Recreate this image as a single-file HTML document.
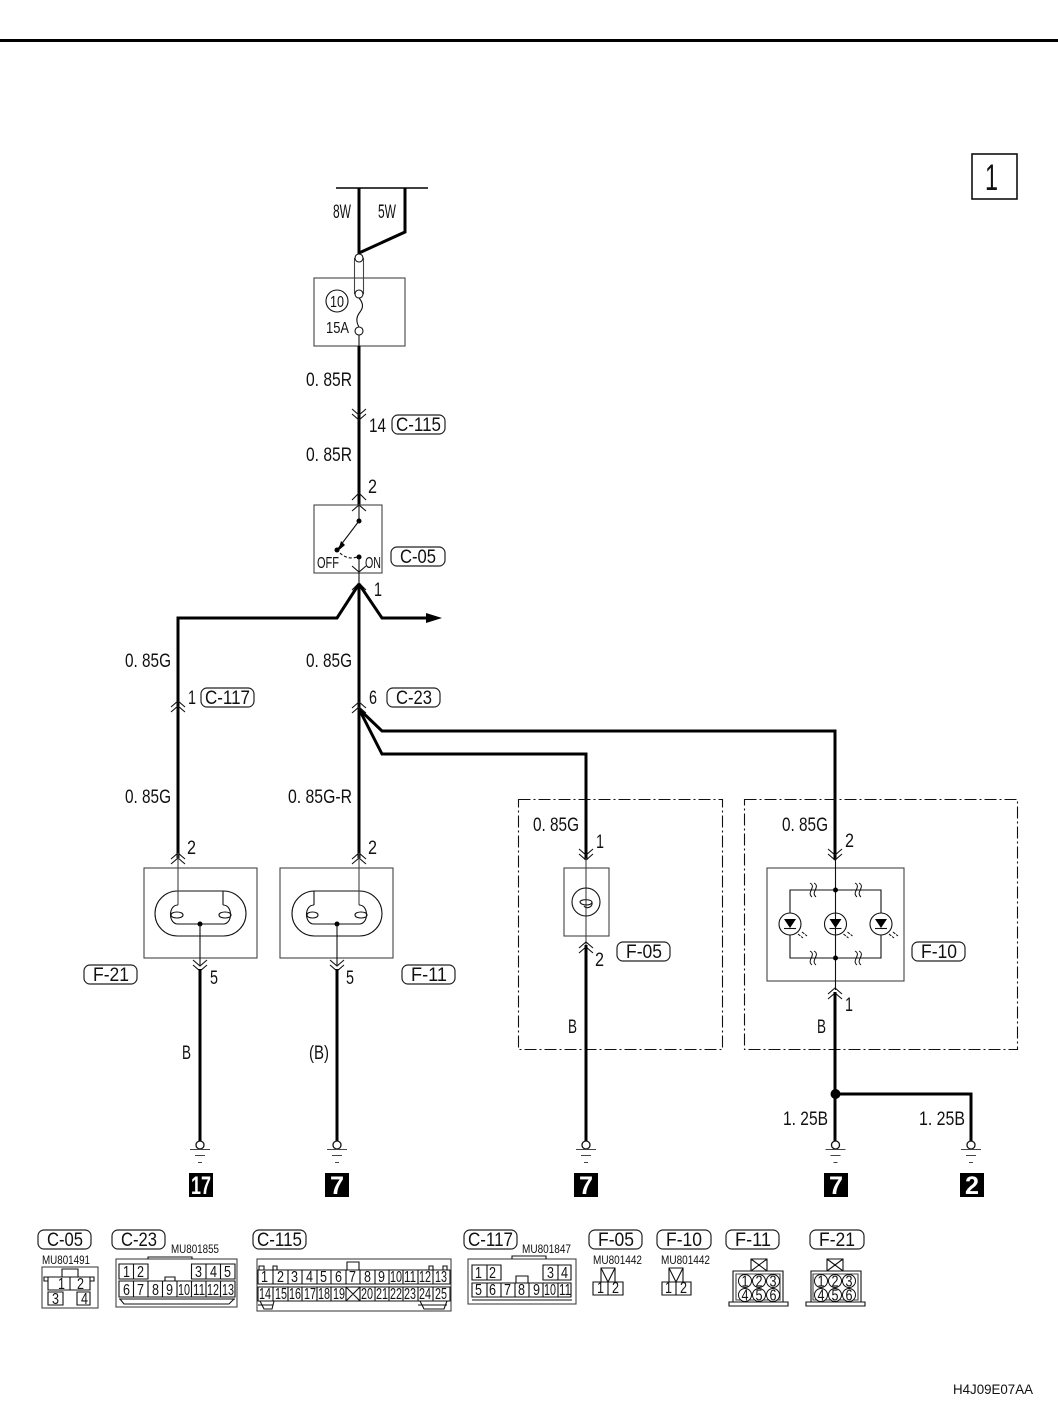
<!DOCTYPE html>
<html><head><meta charset="utf-8"><style>
html,body{margin:0;padding:0;background:#fff}
svg{display:block}
text{font-family:"Liberation Sans",sans-serif;fill:#111;font-size:19.5px}
.s{font-size:14px}.m{font-size:16px}.c{font-size:12px}
.n{font-size:15.500px}
.w{fill:none;stroke:#000;stroke-width:3}
.t{fill:none;stroke:#111;stroke-width:1.1}
.g{fill:none;stroke:#444;stroke-width:1.1}
.p{fill:none;stroke:#222;stroke-width:1.2}
.d{fill:#000}
.b{fill:#fff;font-weight:bold;font-size:25px}
</style></head><body>
<svg width="1058" height="1402" viewBox="0 0 1058 1402" xmlns="http://www.w3.org/2000/svg">
<defs>
<path id="u" class="t" d="M-7 6L0 0L7 6M-7 11L0 5L7 11"/>
<path id="v" class="t" d="M-7 -6L0 0L7 -6M-7 -11L0 -5L7 -11"/>
<g id="gnd"><circle cx="0" cy="0" r="4" fill="#fff" stroke="#111" stroke-width="1.3"/><path class="g" d="M-10 4.500H10M-5 10.500H5M-2 17.500H2"/></g>
<g id="led"><circle r="11" fill="none" stroke="#111" stroke-width="1.1"/><path class="d" d="M-6 -5H6L0 4Z"/><path class="t" d="M-6 4.500H6"/><path class="t" d="M8 10L13 14M12 8L17 12" stroke-dasharray="3 1" stroke-width="1.6"/></g>
</defs>
<rect x="0" y="39" width="1058" height="3" fill="#000"/>
<rect x="972" y="154" width="45" height="45" fill="none" stroke="#111" stroke-width="1.6"/>
<text x="985" y="190" style="font-size:37px" textLength="13" lengthAdjust="spacingAndGlyphs">1</text>

<!-- power -->
<path d="M336 188H428" stroke="#000" stroke-width="1.5"/>
<path class="w" d="M359 188V253L405 232V188"/>
<rect x="314" y="278" width="91" height="68" class="g"/>
<path class="g" d="M354.500 258V294M363.500 258V294"/>
<circle cx="359" cy="258" r="4" fill="#fff" stroke="#111" stroke-width="1.1"/>
<circle cx="359" cy="294" r="4" fill="#fff" stroke="#111" stroke-width="1.1"/>
<circle cx="359" cy="331" r="4" fill="#fff" stroke="#111" stroke-width="1.1"/>
<path class="t" d="M359 298C364 304 363 308 360 312C356 317 356 322 359 327M359 335V346"/>
<circle cx="337" cy="301" r="11" class="t"/>
<text class="n" x="330" y="307" textLength="14" lengthAdjust="spacingAndGlyphs">10</text>
<text class="m" x="326" y="333" textLength="23" lengthAdjust="spacingAndGlyphs">15A</text>
<text x="333" y="218" textLength="18" lengthAdjust="spacingAndGlyphs">8W</text>
<text x="378" y="218" textLength="18" lengthAdjust="spacingAndGlyphs">5W</text>

<path class="w" d="M359 346V505"/>
<use href="#v" x="359" y="420"/>
<text x="306" y="386" textLength="46" lengthAdjust="spacingAndGlyphs">0. 85R</text>
<text x="306" y="461" textLength="46" lengthAdjust="spacingAndGlyphs">0. 85R</text>
<text x="369" y="432" textLength="17" lengthAdjust="spacingAndGlyphs">14</text>
<rect x="392" y="415" width="53" height="19" rx="6" class="p"/>
<text x="396" y="431" textLength="45" lengthAdjust="spacingAndGlyphs">C-115</text>

<!-- switch -->
<path d="M352 500L359 493L366 500M352 511L359 505L366 511" class="t"/>
<rect x="314" y="505" width="68" height="68" class="g"/>
<text x="368" y="493" textLength="9" lengthAdjust="spacingAndGlyphs">2</text>
<path class="t" d="M359 505V520"/>
<circle cx="359" cy="521" r="2.500" class="d"/>
<path class="t" d="M359 521L337 550" stroke-width="1.4"/>
<path class="d" d="M341 541L345 545L338 551Z"/>
<circle cx="337" cy="550" r="2.500" class="d"/>
<path class="t" d="M340 553C345 558 352 559 357 557" stroke-dasharray="3 2"/>
<circle cx="359" cy="557" r="2.500" class="d"/>
<path class="t" d="M359 557V583M352 566L359 572L366 566M352 590L359 583L366 590"/>
<text class="m" x="317" y="568" textLength="22" lengthAdjust="spacingAndGlyphs">OFF</text>
<text class="m" x="365" y="568" textLength="16" lengthAdjust="spacingAndGlyphs">ON</text>
<rect x="391" y="547" width="54" height="19" rx="6" class="p"/>
<text x="400" y="563" textLength="36" lengthAdjust="spacingAndGlyphs">C-05</text>
<text x="374" y="596" textLength="8" lengthAdjust="spacingAndGlyphs">1</text>

<!-- main wires -->
<path class="w" d="M359 584V858"/>
<path class="w" d="M359 584L337 618H178V858"/>
<path class="w" d="M359 584L382 618H426"/>
<path class="d" d="M426 613L442 618L426 623Z"/>
<path class="w" d="M359 709L382 731H835V860"/>
<path class="w" d="M359 709L382 754H586V860"/>
<use href="#u" x="178" y="701"/>
<use href="#u" x="359" y="702"/>
<text x="125" y="667" textLength="46" lengthAdjust="spacingAndGlyphs">0. 85G</text>
<text x="306" y="667" textLength="46" lengthAdjust="spacingAndGlyphs">0. 85G</text>
<text x="188" y="704" textLength="8" lengthAdjust="spacingAndGlyphs">1</text>
<rect x="201" y="688" width="53" height="19" rx="6" class="p"/>
<text x="205" y="704" textLength="45" lengthAdjust="spacingAndGlyphs">C-117</text>
<text x="369" y="704" textLength="8" lengthAdjust="spacingAndGlyphs">6</text>
<rect x="387" y="688" width="53" height="19" rx="6" class="p"/>
<text x="396" y="704" textLength="36" lengthAdjust="spacingAndGlyphs">C-23</text>
<text x="125" y="803" textLength="46" lengthAdjust="spacingAndGlyphs">0. 85G</text>
<text x="288" y="803" textLength="64" lengthAdjust="spacingAndGlyphs">0. 85G-R</text>

<!-- F-21 -->
<rect x="144" y="868" width="113" height="90" class="g"/>
<use href="#u" x="178" y="853"/>
<text x="187" y="854" textLength="9" lengthAdjust="spacingAndGlyphs">2</text>
<rect x="155" y="891" width="91" height="45" rx="22.500" class="t"/>
<path class="g" d="M178 853V905"/>
<path class="t" d="M223 891V905"/>
<path class="t" d="M178 905C168 905 168 924 178 924H223C233 924 233 905 223 905M171 915C171 911 183 911 183 915C183 919 171 919 171 915ZM219 915C219 911 231 911 231 915C231 919 219 919 219 915Z"/>
<circle cx="200" cy="924" r="2.500" class="d"/>
<path class="t" d="M200 924V965"/>
<use href="#v" x="200" y="971"/>
<path class="w" d="M200 969V1141"/>
<rect x="84" y="965" width="53" height="19" rx="6" class="p"/>
<text x="93" y="981" textLength="36" lengthAdjust="spacingAndGlyphs">F-21</text>
<text x="210" y="984" textLength="8" lengthAdjust="spacingAndGlyphs">5</text>
<text x="182" y="1059" textLength="9" lengthAdjust="spacingAndGlyphs">B</text>

<!-- F-11 -->
<rect x="280" y="868" width="113" height="90" class="g"/>
<use href="#u" x="359" y="853"/>
<text x="368" y="854" textLength="9" lengthAdjust="spacingAndGlyphs">2</text>
<rect x="292" y="891" width="90" height="45" rx="22.500" class="t"/>
<path class="g" d="M359 853V905"/>
<path class="t" d="M314 891V905"/>
<path class="t" d="M359 905C369 905 369 924 359 924H314C304 924 304 905 314 905M307 915C307 911 318 911 318 915C318 919 307 919 307 915ZM355 915C355 911 367 911 367 915C367 919 355 919 355 915Z"/>
<circle cx="337" cy="924" r="2.500" class="d"/>
<path class="t" d="M337 924V965"/>
<use href="#v" x="337" y="971"/>
<path class="w" d="M337 969V1141"/>
<rect x="402" y="965" width="53" height="19" rx="6" class="p"/>
<text x="411" y="981" textLength="36" lengthAdjust="spacingAndGlyphs">F-11</text>
<text x="346" y="984" textLength="8" lengthAdjust="spacingAndGlyphs">5</text>
<text x="309" y="1059" textLength="20" lengthAdjust="spacingAndGlyphs">(B)</text>

<!-- dash boxes -->
<rect x="518.500" y="799.500" width="204" height="250" class="t" stroke-dasharray="12 3 2 3"/>
<rect x="744.500" y="799.500" width="273" height="250" class="t" stroke-dasharray="12 3 2 3"/>

<!-- F-05 -->
<text x="533" y="831" textLength="46" lengthAdjust="spacingAndGlyphs">0. 85G</text>
<text x="596" y="848" textLength="8" lengthAdjust="spacingAndGlyphs">1</text>
<use href="#v" x="586" y="860"/>
<rect x="564" y="868" width="45" height="68" class="g"/>
<path class="g" d="M586 858V945"/>
<circle cx="586" cy="902" r="14" class="t"/>
<path class="t" d="M580 902C580 899 591 899 592 902C592 906 581 906 580 902ZM592 902C593 908 586 909 584 906"/>
<use href="#u" x="586" y="942"/>
<path class="w" d="M586 945V1141"/>
<rect x="617" y="942" width="53" height="19" rx="6" class="p"/>
<text x="626" y="958" textLength="36" lengthAdjust="spacingAndGlyphs">F-05</text>
<text x="595" y="966" textLength="9" lengthAdjust="spacingAndGlyphs">2</text>
<text x="568" y="1033" textLength="9" lengthAdjust="spacingAndGlyphs">B</text>

<!-- F-10 -->
<text x="782" y="831" textLength="46" lengthAdjust="spacingAndGlyphs">0. 85G</text>
<text x="845" y="847" textLength="9" lengthAdjust="spacingAndGlyphs">2</text>
<use href="#v" x="835" y="860"/>
<rect x="767" y="868" width="137" height="113" class="g"/>
<path class="t" d="M835.500 858V990M790 913V890H881V913M790 935V958H881V935"/>
<circle cx="835.500" cy="890" r="2.500" class="d"/><circle cx="835.500" cy="958" r="2.500" class="d"/>
<g fill="#fff" stroke="#111" stroke-width="1">
<path d="M810 883C817 887 806 892 812 897M814 883C821 887 810 892 816 897M855 883C862 887 851 892 857 897M859 883C866 887 855 892 861 897"/>
<path d="M810 951C817 955 806 960 812 965M814 951C821 955 810 960 816 965M855 951C862 955 851 960 857 965M859 951C866 955 855 960 861 965"/>
</g>
<use href="#led" x="790" y="924"/><use href="#led" x="835.500" y="924"/><use href="#led" x="881" y="924"/>
<use href="#u" x="835" y="988"/>
<path class="w" d="M835 992V1141"/>
<rect x="912" y="942" width="53" height="19" rx="6" class="p"/>
<text x="921" y="958" textLength="36" lengthAdjust="spacingAndGlyphs">F-10</text>
<text x="845" y="1011" textLength="8" lengthAdjust="spacingAndGlyphs">1</text>
<text x="817" y="1033" textLength="9" lengthAdjust="spacingAndGlyphs">B</text>
<circle cx="835.500" cy="1094" r="5" class="d"/>
<path class="w" d="M835 1094H971V1141"/>
<text x="783" y="1125" textLength="45" lengthAdjust="spacingAndGlyphs">1. 25B</text>
<text x="919" y="1125" textLength="46" lengthAdjust="spacingAndGlyphs">1. 25B</text>

<!-- grounds -->
<use href="#gnd" x="200" y="1145"/><use href="#gnd" x="337" y="1145"/><use href="#gnd" x="586" y="1145"/><use href="#gnd" x="835.500" y="1145"/><use href="#gnd" x="971" y="1145"/>
<rect x="189" y="1173" width="24" height="24" fill="#000"/><text class="b" x="191" y="1194" textLength="20" lengthAdjust="spacingAndGlyphs">17</text>
<rect x="325" y="1173" width="24" height="24" fill="#000"/><text class="b" x="330" y="1194" textLength="14" lengthAdjust="spacingAndGlyphs">7</text>
<rect x="574" y="1173" width="24" height="24" fill="#000"/><text class="b" x="579" y="1194" textLength="14" lengthAdjust="spacingAndGlyphs">7</text>
<rect x="824" y="1173" width="24" height="24" fill="#000"/><text class="b" x="829" y="1194" textLength="14" lengthAdjust="spacingAndGlyphs">7</text>
<rect x="960" y="1173" width="24" height="24" fill="#000"/><text class="b" x="965" y="1194" textLength="14" lengthAdjust="spacingAndGlyphs">2</text>

<!-- connector labels -->
<rect x="38" y="1230" width="53" height="19" rx="6" class="p"/><text x="47" y="1246" textLength="36" lengthAdjust="spacingAndGlyphs">C-05</text>
<rect x="112" y="1230" width="53" height="19" rx="6" class="p"/><text x="121" y="1246" textLength="36" lengthAdjust="spacingAndGlyphs">C-23</text>
<rect x="253" y="1230" width="53" height="19" rx="6" class="p"/><text x="257" y="1246" textLength="45" lengthAdjust="spacingAndGlyphs">C-115</text>
<rect x="464" y="1230" width="53" height="19" rx="6" class="p"/><text x="468" y="1246" textLength="45" lengthAdjust="spacingAndGlyphs">C-117</text>
<rect x="589" y="1230" width="53" height="19" rx="6" class="p"/><text x="598" y="1246" textLength="36" lengthAdjust="spacingAndGlyphs">F-05</text>
<rect x="657" y="1230" width="54" height="19" rx="6" class="p"/><text x="666" y="1246" textLength="36" lengthAdjust="spacingAndGlyphs">F-10</text>
<rect x="726" y="1230" width="53" height="19" rx="6" class="p"/><text x="735" y="1246" textLength="36" lengthAdjust="spacingAndGlyphs">F-11</text>
<rect x="810" y="1230" width="54" height="19" rx="6" class="p"/><text x="819" y="1246" textLength="36" lengthAdjust="spacingAndGlyphs">F-21</text>
<text class="c" x="42" y="1264" textLength="48" lengthAdjust="spacingAndGlyphs">MU801491</text>
<text class="c" x="171" y="1253" textLength="48" lengthAdjust="spacingAndGlyphs">MU801855</text>
<text class="c" x="522" y="1253" textLength="49" lengthAdjust="spacingAndGlyphs">MU801847</text>
<text class="c" x="593" y="1264" textLength="49" lengthAdjust="spacingAndGlyphs">MU801442</text>
<text class="c" x="661" y="1264" textLength="49" lengthAdjust="spacingAndGlyphs">MU801442</text>

<!-- C-05 connector -->
<rect x="42" y="1267" width="56" height="41" class="g"/>
<path class="t" d="M62 1277V1269H78V1277M48 1277H90V1290H48ZM70 1277V1290M48 1292H63V1305H48ZM77 1292H90V1305H77ZM44 1277H48V1281H44ZM90 1277H94V1281H90Z"/>
<text class="n" x="58" y="1289" textLength="7" lengthAdjust="spacingAndGlyphs">1</text><text class="n" x="77" y="1289" textLength="7" lengthAdjust="spacingAndGlyphs">2</text>
<text class="n" x="52" y="1304" textLength="7" lengthAdjust="spacingAndGlyphs">3</text><text class="n" x="81" y="1304" textLength="7" lengthAdjust="spacingAndGlyphs">4</text>

<!-- C-23 connector -->
<rect x="116" y="1259" width="121" height="48" class="g"/>
<path class="t" d="M148 1259V1257H192V1259M119 1264H148V1279H119ZM133.500 1264V1279M191.500 1264H235V1279H191.500ZM206 1264V1279M220.500 1264V1279M119 1281H235V1297H119ZM133.500 1281V1297M148 1281V1297M162.500 1281V1297M177 1281V1297M191.500 1281V1297M206 1281V1297M220.500 1281V1297M119 1299H235M120 1299L124 1304H229L234 1299M165 1281V1277H175V1281"/>
<text class="n" x="123" y="1277" textLength="7" lengthAdjust="spacingAndGlyphs">1</text><text class="n" x="137" y="1277" textLength="7" lengthAdjust="spacingAndGlyphs">2</text>
<text class="n" x="195" y="1277" textLength="7" lengthAdjust="spacingAndGlyphs">3</text><text class="n" x="210" y="1277" textLength="7" lengthAdjust="spacingAndGlyphs">4</text><text class="n" x="224" y="1277" textLength="7" lengthAdjust="spacingAndGlyphs">5</text>
<text class="n" x="123" y="1295" textLength="7" lengthAdjust="spacingAndGlyphs">6</text><text class="n" x="137" y="1295" textLength="7" lengthAdjust="spacingAndGlyphs">7</text><text class="n" x="152" y="1295" textLength="7" lengthAdjust="spacingAndGlyphs">8</text><text class="n" x="166" y="1295" textLength="7" lengthAdjust="spacingAndGlyphs">9</text>
<text class="n" x="178" y="1295" textLength="12" lengthAdjust="spacingAndGlyphs">10</text><text class="n" x="193" y="1295" textLength="12" lengthAdjust="spacingAndGlyphs">11</text><text class="n" x="207" y="1295" textLength="12" lengthAdjust="spacingAndGlyphs">12</text><text class="n" x="222" y="1295" textLength="12" lengthAdjust="spacingAndGlyphs">13</text>

<!-- C-115 connector -->
<rect x="257" y="1259" width="194" height="52" class="g"/>
<path class="t" d="M258 1270H450V1284H258ZM258 1287H450V1301H258ZM273 1270V1284M288 1270V1284M302 1270V1284M317 1270V1284M331 1270V1284M346 1270V1284M360 1270V1284M375 1270V1284M389 1270V1284M403 1270V1284M418 1270V1284M433 1270V1284M273 1287V1301M288 1287V1301M302 1287V1301M317 1287V1301M331 1287V1301M346 1287V1301M360 1287V1301M375 1287V1301M389 1287V1301M403 1287V1301M418 1287V1301M433 1287V1301M346 1287L360 1301M360 1287L346 1301M258 1305H273M418 1305H447M260 1301L264 1309H272L274 1301M420 1301L424 1309H444L447 1301M347 1270V1262H359V1270M259 1266H264V1270H259ZM273 1266H277V1270H273ZM429 1266H433V1270H429ZM443 1266H447V1270H443Z"/>
<text class="n" x="261" y="1282" textLength="7" lengthAdjust="spacingAndGlyphs">1</text><text class="n" x="277" y="1282" textLength="7" lengthAdjust="spacingAndGlyphs">2</text><text class="n" x="291" y="1282" textLength="7" lengthAdjust="spacingAndGlyphs">3</text><text class="n" x="306" y="1282" textLength="7" lengthAdjust="spacingAndGlyphs">4</text><text class="n" x="320" y="1282" textLength="7" lengthAdjust="spacingAndGlyphs">5</text><text class="n" x="335" y="1282" textLength="7" lengthAdjust="spacingAndGlyphs">6</text><text class="n" x="349" y="1282" textLength="7" lengthAdjust="spacingAndGlyphs">7</text><text class="n" x="364" y="1282" textLength="7" lengthAdjust="spacingAndGlyphs">8</text><text class="n" x="378" y="1282" textLength="7" lengthAdjust="spacingAndGlyphs">9</text>
<text class="n" x="390" y="1282" textLength="12" lengthAdjust="spacingAndGlyphs">10</text><text class="n" x="404" y="1282" textLength="12" lengthAdjust="spacingAndGlyphs">11</text><text class="n" x="419" y="1282" textLength="12" lengthAdjust="spacingAndGlyphs">12</text><text class="n" x="435" y="1282" textLength="12" lengthAdjust="spacingAndGlyphs">13</text>
<text class="n" x="259" y="1299" textLength="12" lengthAdjust="spacingAndGlyphs">14</text><text class="n" x="275" y="1299" textLength="12" lengthAdjust="spacingAndGlyphs">15</text><text class="n" x="289" y="1299" textLength="12" lengthAdjust="spacingAndGlyphs">16</text><text class="n" x="304" y="1299" textLength="12" lengthAdjust="spacingAndGlyphs">17</text><text class="n" x="318" y="1299" textLength="12" lengthAdjust="spacingAndGlyphs">18</text><text class="n" x="333" y="1299" textLength="12" lengthAdjust="spacingAndGlyphs">19</text>
<text class="n" x="361" y="1299" textLength="12" lengthAdjust="spacingAndGlyphs">20</text><text class="n" x="376" y="1299" textLength="12" lengthAdjust="spacingAndGlyphs">21</text><text class="n" x="390" y="1299" textLength="12" lengthAdjust="spacingAndGlyphs">22</text><text class="n" x="404" y="1299" textLength="12" lengthAdjust="spacingAndGlyphs">23</text><text class="n" x="419" y="1299" textLength="12" lengthAdjust="spacingAndGlyphs">24</text><text class="n" x="435" y="1299" textLength="12" lengthAdjust="spacingAndGlyphs">25</text>

<!-- C-117 connector -->
<rect x="468" y="1259" width="108" height="45" class="g"/>
<path class="t" d="M512 1259V1256H546V1259M472 1265H501V1280H472ZM487 1265V1280M543 1265H571V1280H543ZM558 1265V1280M472 1283H571V1297H472ZM487 1283V1297M501 1283V1297M515 1283V1297M529 1283V1297M543 1283V1297M558 1283V1297M472 1300H572M516 1283V1276H528V1283"/>
<text class="n" x="475" y="1278" textLength="7" lengthAdjust="spacingAndGlyphs">1</text><text class="n" x="489" y="1278" textLength="7" lengthAdjust="spacingAndGlyphs">2</text><text class="n" x="547" y="1278" textLength="7" lengthAdjust="spacingAndGlyphs">3</text><text class="n" x="561" y="1278" textLength="7" lengthAdjust="spacingAndGlyphs">4</text>
<text class="n" x="475" y="1295" textLength="7" lengthAdjust="spacingAndGlyphs">5</text><text class="n" x="489" y="1295" textLength="7" lengthAdjust="spacingAndGlyphs">6</text><text class="n" x="504" y="1295" textLength="7" lengthAdjust="spacingAndGlyphs">7</text><text class="n" x="518" y="1295" textLength="7" lengthAdjust="spacingAndGlyphs">8</text><text class="n" x="533" y="1295" textLength="7" lengthAdjust="spacingAndGlyphs">9</text><text class="n" x="544" y="1295" textLength="12" lengthAdjust="spacingAndGlyphs">10</text><text class="n" x="559" y="1295" textLength="12" lengthAdjust="spacingAndGlyphs">11</text>

<!-- F-05 / F-10 connectors -->
<path class="t" d="M593 1282H623V1295H593ZM608 1282V1295M601 1282V1268H615V1282M601 1268L608 1282L615 1268"/>
<text class="n" x="597" y="1293" textLength="7" lengthAdjust="spacingAndGlyphs">1</text><text class="n" x="612" y="1293" textLength="7" lengthAdjust="spacingAndGlyphs">2</text>
<path class="t" d="M662 1282H691V1295H662ZM676 1282V1295M669 1282V1268H683V1282M669 1268L676 1282L683 1268"/>
<text class="n" x="665" y="1293" textLength="7" lengthAdjust="spacingAndGlyphs">1</text><text class="n" x="680" y="1293" textLength="7" lengthAdjust="spacingAndGlyphs">2</text>

<!-- F-11 connector -->
<path class="t" d="M733 1302V1271H783V1302M729 1302H788V1306H729ZM751 1271V1259H767V1271M751 1259L767 1271M767 1259L751 1271"/>
<path class="g" d="M736 1274H780V1300H736Z"/>
<circle cx="745" cy="1281" r="6.500" fill="#fff" stroke="#111"/><circle cx="759" cy="1281" r="6.500" fill="#fff" stroke="#111"/><circle cx="773" cy="1281" r="6.500" fill="#fff" stroke="#111"/>
<circle cx="745" cy="1295" r="6.500" fill="#fff" stroke="#111"/><circle cx="759" cy="1295" r="6.500" fill="#fff" stroke="#111"/><circle cx="773" cy="1295" r="6.500" fill="#fff" stroke="#111"/>
<text class="n" x="741.500" y="1286.500" textLength="7" lengthAdjust="spacingAndGlyphs">1</text><text class="n" x="755.500" y="1286.500" textLength="7" lengthAdjust="spacingAndGlyphs">2</text><text class="n" x="769.500" y="1286.500" textLength="7" lengthAdjust="spacingAndGlyphs">3</text>
<text class="n" x="741.500" y="1300.500" textLength="7" lengthAdjust="spacingAndGlyphs">4</text><text class="n" x="755.500" y="1300.500" textLength="7" lengthAdjust="spacingAndGlyphs">5</text><text class="n" x="769.500" y="1300.500" textLength="7" lengthAdjust="spacingAndGlyphs">6</text>

<!-- F-21 connector -->
<path class="t" d="M811 1302V1271H861V1302M806 1302H865V1306H806ZM827 1271V1259H843V1271M827 1259L843 1271M843 1259L827 1271"/>
<path class="g" d="M813 1274H858V1300H813Z"/>
<circle cx="821" cy="1281" r="6.500" fill="#fff" stroke="#111"/><circle cx="835" cy="1281" r="6.500" fill="#fff" stroke="#111"/><circle cx="849" cy="1281" r="6.500" fill="#fff" stroke="#111"/>
<circle cx="821" cy="1295" r="6.500" fill="#fff" stroke="#111"/><circle cx="835" cy="1295" r="6.500" fill="#fff" stroke="#111"/><circle cx="849" cy="1295" r="6.500" fill="#fff" stroke="#111"/>
<text class="n" x="817.500" y="1286.500" textLength="7" lengthAdjust="spacingAndGlyphs">1</text><text class="n" x="831.500" y="1286.500" textLength="7" lengthAdjust="spacingAndGlyphs">2</text><text class="n" x="845.500" y="1286.500" textLength="7" lengthAdjust="spacingAndGlyphs">3</text>
<text class="n" x="817.500" y="1300.500" textLength="7" lengthAdjust="spacingAndGlyphs">4</text><text class="n" x="831.500" y="1300.500" textLength="7" lengthAdjust="spacingAndGlyphs">5</text><text class="n" x="845.500" y="1300.500" textLength="7" lengthAdjust="spacingAndGlyphs">6</text>

<text class="s" x="953" y="1394" textLength="80" lengthAdjust="spacingAndGlyphs">H4J09E07AA</text>
</svg>
</body></html>
